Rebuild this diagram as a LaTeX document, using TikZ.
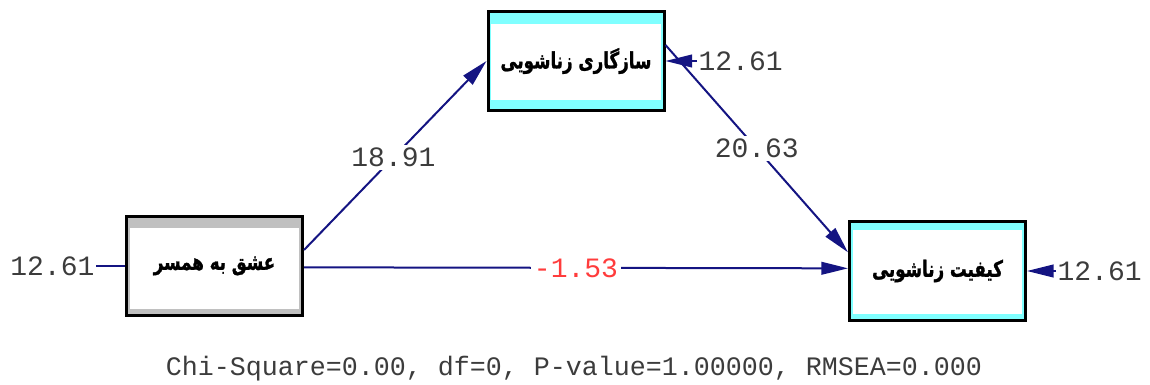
\documentclass[tikz,border=0pt]{standalone}
\usepackage{fontspec}
\usepackage{graphicx}
\usetikzlibrary{arrows.meta}
\TeXXeTstate=1
\newfontfamily\arabicfont[Script=Arabic,BoldFeatures={FakeBold=1.4}]{DejaVu Sans}
\newfontfamily\monofont{Liberation Mono}
\newcommand{\artxt}[1]{\scalebox{1}[1.35]{\beginR #1\endR}}
\definecolor{navyline}{RGB}{20,20,130}
\definecolor{bandcyan}{RGB}{128,255,255}
\definecolor{bandgray}{RGB}{192,192,192}
\definecolor{numgray}{RGB}{60,60,60}
\definecolor{numred}{RGB}{255,60,60}
\tikzset{
  bandtop/.initial=8pt, bandbot/.initial=5.5pt,
  varbox/.style={draw=black, line width=2.25pt, fill=#1, minimum width=132pt, minimum height=74pt, inner sep=0pt,
    font=\arabicfont\bfseries\fontsize{12.5}{15}\selectfont,
    path picture={\fill[white] ([xshift=2.6pt,yshift=-\pgfkeysvalueof{/tikz/bandtop}]path picture bounding box.north west) rectangle ([xshift=-2.6pt,yshift=\pgfkeysvalueof{/tikz/bandbot}]path picture bounding box.south east);}},
  numlab/.style={font=\monofont\fontsize{21}{24}\selectfont, text=numgray, inner sep=1pt},
  pathlab/.style={numlab, fill=white, inner sep=2pt},
  conn/.style={navyline, line width=1.5pt, -{Triangle[length=20pt,width=9.5pt]}},
  errline/.style={navyline, line width=1.5pt},
}
\begin{document}
\begin{tikzpicture}[x=0.75pt,y=-0.75pt]
\useasboundingbox (0,0) rectangle (1150,385);
\node[varbox=bandgray, bandtop=8.5pt, bandbot=5pt] (L) at (214.5,266) {\artxt{عشق به همسر}};
\node[varbox=bandcyan, bandtop=9.5pt, bandbot=8pt] (T) at (576,61) {\artxt{سازگاری زناشویی}};
\node[varbox=bandcyan, bandtop=6.5pt, bandbot=5pt] (R) at (937.5,271) {\artxt{کیفیت زناشویی}};

\node[numlab, anchor=east] (EL) at (96,266) {12.61};
\node[numlab, anchor=west] (ET) at (697,61) {12.61};
\node[numlab, anchor=west] (ER) at (1056,271) {12.61};

\draw[errline] (EL.east) -- (L.west);
\draw[conn] (ET.west) -- (T.east);
\draw[conn] (ER.west) -- (R.east);

\draw[conn] ([yshift=12pt]L.east) -- node[pathlab, pos=0.49] (l1) {18.91} ([yshift=0pt]T.west);
\draw[conn] ([yshift=12pt]T.east) -- node[pathlab, pos=0.5] (l2) {20.63} ([yshift=14pt]R.west);
\draw[conn] ([yshift=-1pt]L.east) -- node[pathlab, pos=0.5, text=numred] (l3) {-1.53} ([yshift=2pt]R.west);

\node[font=\monofont\fontsize{20}{22}\selectfont, text=numgray] (fit) at (574,369) {Chi-Square=0.00, df=0, P-value=1.00000, RMSEA=0.000};
\end{tikzpicture}
\end{document}
